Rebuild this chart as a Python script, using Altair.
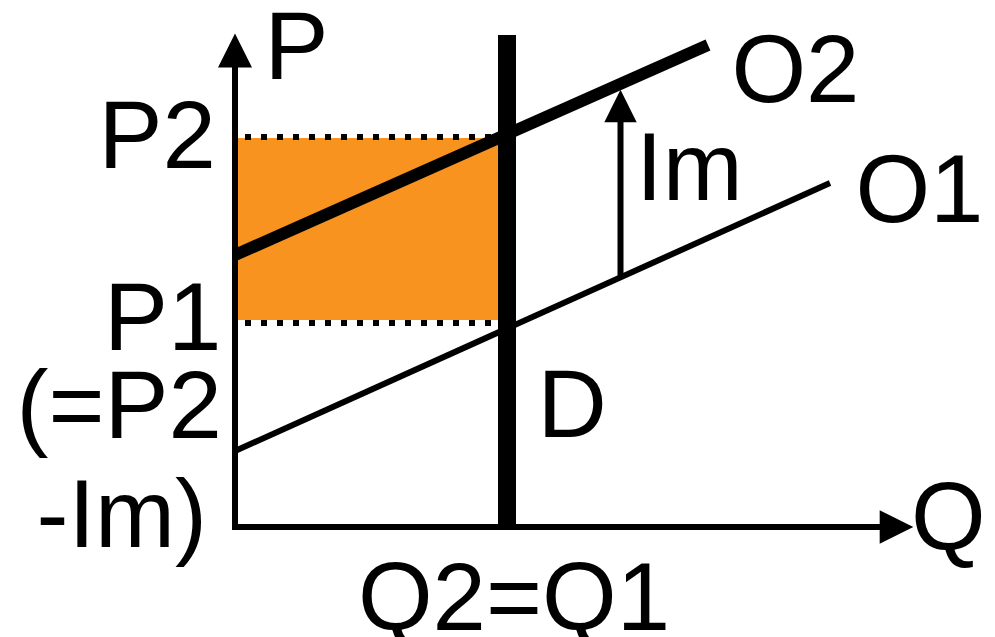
import altair as alt
import pandas as pd

# ---- Economic coordinates: Q to the right, P upwards, origin where the axes meet ----
Q_DOMAIN = [-227, 752]
P_DOMAIN = [-110, 519]

# Axes (shafts and arrowhead centres)
axis_q_line = {"q": [-3], "q2": [650], "p": [0], "p2": [0]}
axis_p_line = {"q": [0], "q2": [0], "p": [-3], "p2": [465]}
head_right = {"q": [661.5], "p": [0]}
head_up = {"q": [0], "p": [476.5]}

# Shaded area between P1 and P2 up to Q1
shade_q = [3, 263]
shade_p = [207, 389]

# Price levels (dotted guides)
price_levels = [390, 204]          # P2, P1
guide_q = [10, 262]

# Demand D (vertical at Q2 = Q1)
D_q = [272]
D_p = [-3, 492]

# Supply curves
O1_q = [0, 595]
O1_p = [76, 344]
O2_q = [0, 473]
O2_p = [272, 482]

# Import duty arrow Im
Im_q = [385.5]
Im_p = [250, 415]
Im_head_p = [421]

# Labels
left_text = ["P", "O2", "Im", "O1", "D", "Q"]
left_q = [29.6, 496.4, 401, 620.4, 302.6, 676]
left_p = [448, 425, 327, 305, 90, -23]

right_text = ["P2", "P1", "(=P2", "-Im)"]
right_q = [-19, -13.5, -13, -28]
right_p = [359, 177, 89, -20]

center_text = ["Q2=Q1"]
center_q = [279]
center_p = [-103]

ORANGE = "#F7931E"
FONT = "Liberation Sans"
FS = 96

xs = alt.Scale(domain=Q_DOMAIN, nice=False, zero=False)
ys = alt.Scale(domain=P_DOMAIN, nice=False, zero=False)


def X(f="q"):
    return alt.X(f"{f}:Q", scale=xs, axis=None)


def Y(f="p"):
    return alt.Y(f"{f}:Q", scale=ys, axis=None)


def seg(df, width, dash=None):
    kw = dict(color="black", strokeWidth=width, strokeCap="butt")
    if dash:
        kw["strokeDash"] = dash
    return alt.Chart(pd.DataFrame(df)).mark_rule(**kw).encode(
        x=X("q"), x2="q2:Q", y=Y("p"), y2="p2:Q"
    )


shade = alt.Chart(pd.DataFrame({"q": [shade_q[0]], "q2": [shade_q[1]],
                                "p": [shade_p[0]], "p2": [shade_p[1]]})).mark_rect(
    color=ORANGE, opacity=1
).encode(x=X("q"), x2="q2:Q", y=Y("p"), y2="p2:Q")

guides = seg({"q": [guide_q[0]] * 2, "q2": [guide_q[1]] * 2,
              "p": price_levels, "p2": price_levels}, 6, [6, 10])

o1 = seg({"q": [O1_q[0]], "q2": [O1_q[1]], "p": [O1_p[0]], "p2": [O1_p[1]]}, 6)
o2 = seg({"q": [O2_q[0]], "q2": [O2_q[1]], "p": [O2_p[0]], "p2": [O2_p[1]]}, 12)
dem = seg({"q": D_q, "q2": D_q, "p": [D_p[0]], "p2": [D_p[1]]}, 18)
axq = seg(axis_q_line, 6)
axp = seg(axis_p_line, 6)
im = seg({"q": Im_q, "q2": Im_q, "p": [Im_p[0]], "p2": [Im_p[1]]}, 6)

UP = "M0,-1L1,1L-1,1Z"
RIGHT = "M1,0L-1,1L-1,-1Z"


def head(df, shape, size):
    return alt.Chart(pd.DataFrame(df)).mark_point(
        shape=shape, size=size, filled=True, color="black", opacity=1, strokeWidth=0
    ).encode(x=X("q"), y=Y("p"))


h1 = head(head_right, RIGHT, 1130)
h2 = head(head_up, UP, 1156)
h3 = head({"q": Im_q, "p": Im_head_p}, UP, 1050)


def labels(t, q, p, align):
    return alt.Chart(pd.DataFrame({"t": t, "q": q, "p": p})).mark_text(
        align=align, baseline="alphabetic", font=FONT, fontSize=FS, color="black"
    ).encode(x=X("q"), y=Y("p"), text="t:N")


chart = alt.layer(
    shade, guides, o1, o2, axq, axp, dem, im, h1, h2, h3,
    labels(left_text, left_q, left_p, "left"),
    labels(right_text, right_q, right_p, "right"),
    labels(center_text, center_q, center_p, "center"),
).properties(
    width=979, height=629, padding=0, autosize=alt.AutoSizeParams(type="none"),
    background="white",
).configure_view(strokeWidth=0)

chart.save("out.html", embed_options={"renderer": "svg", "actions": False})
